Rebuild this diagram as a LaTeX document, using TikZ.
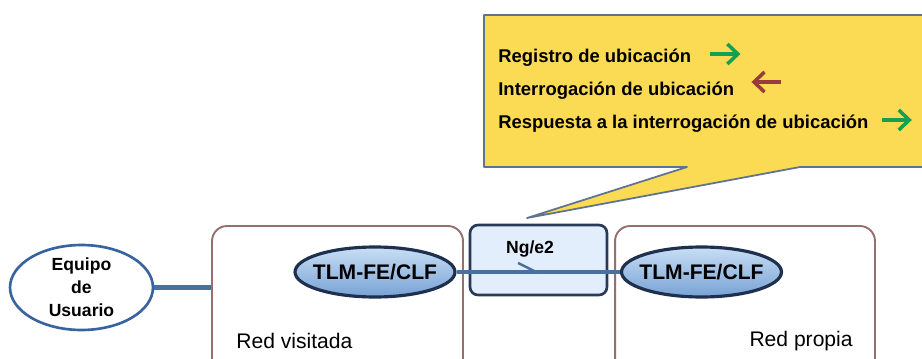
\documentclass[tikz,border=0pt]{standalone}
\usepackage{fontspec}
\setmainfont{Liberation Sans}
\usetikzlibrary{arrows.meta, shapes.geometric, positioning}
\definecolor{calloutFill}{RGB}{252,219,84}
\definecolor{calloutBorder}{RGB}{95,115,145}
\definecolor{netBorder}{RGB}{150,112,112}
\definecolor{tlmBorder}{RGB}{30,48,78}
\definecolor{tlmTop}{RGB}{200,222,245}
\definecolor{tlmBottom}{RGB}{120,162,212}
\definecolor{ueBorder}{RGB}{55,100,160}
\definecolor{ngFill}{RGB}{226,238,251}
\definecolor{ngBorder}{RGB}{40,58,88}
\definecolor{linkBlue}{RGB}{72,112,160}
\definecolor{fwdGreen}{RGB}{20,160,80}
\definecolor{backRed}{RGB}{150,60,60}

\begin{document}
\begin{tikzpicture}[
            x=0.02cm, y=-0.02cm,
            >={Straight Barb[length=2.1mm, width=4mm]},
                base/.style = {inner sep=0pt, font=\bfseries\fontsize{10}{13}\selectfont,
                            align=center},
                netbox/.style = {rectangle, rounded corners=0.3cm, draw=netBorder,
                            line width=1.1pt, fill=white, minimum width=5.02cm,
                            minimum height=3.6cm},
                tlm/.style = {ellipse, draw=tlmBorder, line width=1.8pt,
                            top color=tlmTop, bottom color=tlmBottom,
                            minimum width=3.2cm, minimum height=1.0cm, inner sep=0pt},
                tlmtext/.style = {base, font=\bfseries\fontsize{12}{14}\selectfont},
                equipo/.style = {ellipse, draw=ueBorder, line width=1.5pt, fill=white,
                            minimum width=2.86cm, minimum height=1.7cm, inner sep=0pt},
                ngbox/.style = {rectangle, rounded corners=0.16cm, draw=ngBorder,
                            line width=1.5pt, fill=ngFill, minimum width=2.74cm,
                            minimum height=1.4cm},
                netlabel/.style = {inner sep=0pt, font=\fontsize{12}{14}\selectfont},
                msg/.style = {inner sep=0pt, anchor=west,
                            font=\bfseries\fontsize{10.5}{12}\selectfont},
                link/.style = {draw=linkBlue, line width=2.4pt},
                fwd/.style = {->, draw=fwdGreen, line width=2pt},
                back/.style = {->, draw=backRed, line width=2pt},
                callout/.style = {fill=calloutFill, draw=calloutBorder, line width=1pt,
                            line join=round}
            ]
            \useasboundingbox (0,0) rectangle (922,358);
            \clip (0,0) rectangle (922,358);
            \node (vis) [netbox] at (337.5,316) {};
            \node (prop) [netbox, minimum width=5.2cm] at (745,316) {};
            \node (ng) [ngbox] at (538.5,260) {};
            \node (ngl) [base] at (530,249) {Ng/e2};
            \node (tlmV) [tlm, label={[tlmtext]center:TLM-FE/CLF}] at (375,272) {};
            \node (tlmP) [tlm, label={[tlmtext]center:TLM-FE/CLF}] at (701.5,272) {};
            \node (ue) [equipo, label={[base]center:Equipo\\de\\Usuario}] at (81.5,287.5) {};
            \node (visl) [netlabel, anchor=west] at (236,341) {Red visitada};
            \node (propl) [netlabel, anchor=east] at (853,341) {Red propia};
            \draw[link] (ue.east) -- (ue.east -| vis.west);
            \draw[link] (tlmV) -- (tlmP);
            \draw[draw=linkBlue, line width=1.4pt] (518,263) -- (538,273);
            \coordinate (tip) at (527,218);
            \path[callout] (484,15) -- (945,15) -- (945,167) -- (800,167)
                -- (tip) -- (687,167) -- (484,167) -- cycle;
            \node (l1) [msg] at (498,58) {Registro de ubicación};
            \node (l2) [msg] at (498,91) {Interrogación de ubicación};
            \node (l3) [msg] at (498,124) {Respuesta a la interrogación de ubicación};
            \draw[fwd] ([xshift=0.38cm, yshift=0.08cm]l1.east) -- ++(30,0);
            \draw[back] ([xshift=0.94cm, yshift=0.18cm]l2.east) -- ++(-30,0);
            \draw[fwd] ([xshift=0.26cm, yshift=0.08cm]l3.east) -- ++(30,0);
        \end{tikzpicture}
\end{document}
